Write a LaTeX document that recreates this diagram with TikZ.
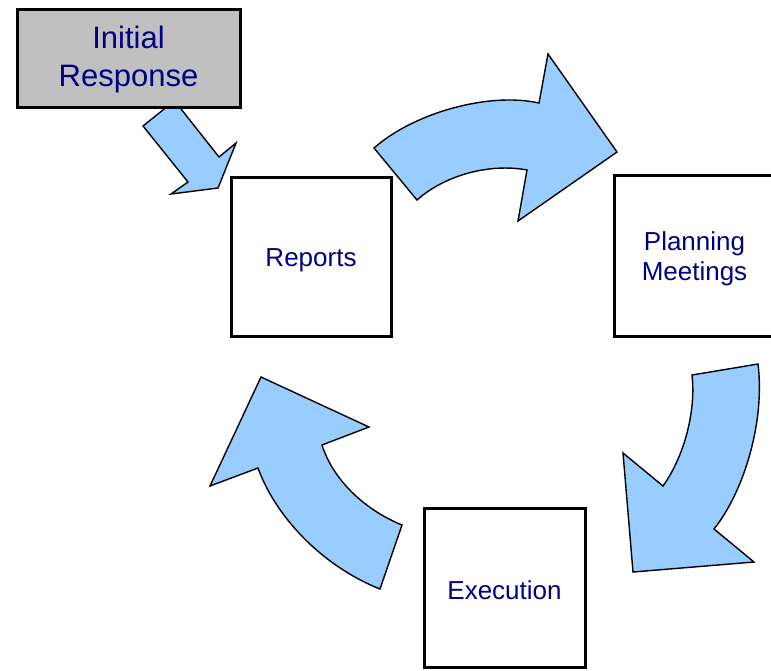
\documentclass[tikz,border=0pt]{standalone}
\usepackage{fontspec}
\setmainfont{Liberation Sans}
\definecolor{txtblue}{RGB}{0,0,128}
\definecolor{arrowblue}{RGB}{153,204,255}
\definecolor{boxgray}{RGB}{192,192,192}
\begin{document}
\begin{tikzpicture}[x=1pt,y=-1pt,
  stepbox/.style={draw=black,line width=3pt,fill=white,inner sep=0pt},
  lbl/.style={inner sep=0pt,align=center,text=txtblue,font=\fontsize{26}{30}\selectfont},
  blockarrow/.style={draw=black,line width=1.4pt,fill=arrowblue,line join=miter}]
\useasboundingbox (0,0) rectangle (771,670);
% block arrows
\draw[blockarrow] (143,126) -- (174.5,100.7) -- (219,157) -- (236,143) -- (218,188)
  -- (171,194) -- (188,182) -- cycle;
\draw[blockarrow] (374,148) .. controls (415,112) and (490,92) .. (539,103)
  -- (548,54) -- (617,152) -- (518,221) -- (527,170)
  .. controls (490,163) and (445,175) .. (417,200) -- cycle;
\draw[blockarrow] (758,364) -- (692,375) .. controls (696,410) and (685,455) .. (663,486)
  -- (623,453) -- (633,572) -- (754,562) -- (714,529)
  .. controls (745,490) and (765,420) .. cycle;
\draw[blockarrow] (261,377) -- (369,427) -- (322,445) .. controls (333,480) and (365,510) .. (402,525)
  -- (380,589) .. controls (320,565) and (275,515) .. (258,468) -- (210,486) -- cycle;
% boxes
\node[stepbox,fill=boxgray,minimum width=223pt,minimum height=98pt] (init) at (128.5,58) {};
\node[stepbox,minimum width=160pt,minimum height=159pt] (rep) at (311,256.5) {};
\node[stepbox,minimum width=161pt,minimum height=161pt] (plan) at (694.5,255.5) {};
\node[stepbox,minimum width=161pt,minimum height=159pt] (exe) at (504.5,587.5) {};
% labels
\node[lbl,font=\fontsize{31}{38}\selectfont] (initt) at ([yshift=-1pt]init.center) {Initial\\Response};
\node[lbl] (rept) at ([yshift=-3.5pt]rep.center) {Reports};
\node[lbl] (plant) at ([yshift=-3.5pt]plan.center) {Planning\\Meetings};
\node[lbl] (exet) at ([yshift=-3pt]exe.center) {Execution};
\end{tikzpicture}
\end{document}
